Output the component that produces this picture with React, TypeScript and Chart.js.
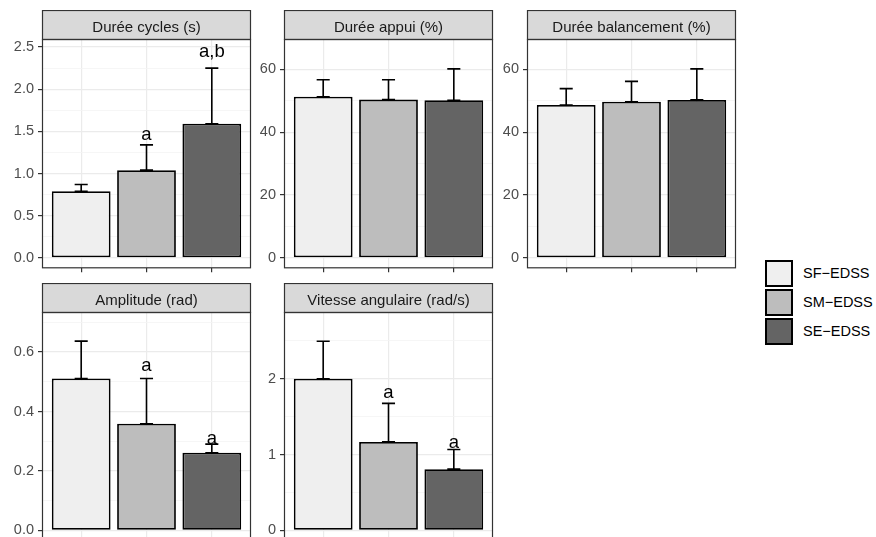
import React, { useEffect, useRef } from "react";
import { Chart, registerables } from "chart.js";

Chart.register(...registerables);

const FONT = '"Liberation Sans", Arial, Helvetica, sans-serif';

// ---------- data ----------
const groups = ["SF\u2212EDSS", "SM\u2212EDSS", "SE\u2212EDSS"];
const groupColors = ["#EFEFEF", "#BDBDBD", "#646464"];
const groupX = [1, 2, 3];

const cyclesTitle = "Durée cycles (s)";
const cyclesMean = [0.79, 1.04, 1.59];
const cyclesUpper = [0.87, 1.34, 2.25];
const cyclesLetters = ["", "a", "a,b"];
const cyclesLetterY = [0, 1.4, 2.385];
const cyclesTicks = [0, 0.5, 1, 1.5, 2, 2.5];
const cyclesTickLabels = ["0.0", "0.5", "1.0", "1.5", "2.0", "2.5"];
const cyclesMinor = [0.25, 0.75, 1.25, 1.75, 2.25];
const cyclesRange = [-0.124, 2.596];

const appuiTitle = "Durée appui (%)";
const appuiMean = [51.3, 50.4, 50.2];
const appuiUpper = [56.7, 56.7, 60.2];
const appuiLetters = ["", "", ""];
const appuiLetterY = [0, 0, 0];
const appuiTicks = [0, 20, 40, 60];
const appuiTickLabels = ["0", "20", "40", "60"];
const appuiMinor = [10, 30, 50];
const appuiRange = [-3.32, 69.7];

const balTitle = "Durée balancement (%)";
const balMean = [48.7, 49.7, 50.3];
const balUpper = [53.9, 56.2, 60.2];
const balLetters = ["", "", ""];
const balLetterY = [0, 0, 0];
const balTicks = [0, 20, 40, 60];
const balTickLabels = ["0", "20", "40", "60"];
const balMinor = [10, 30, 50];
const balRange = [-3.32, 69.7];

const ampTitle = "Amplitude (rad)";
const ampMean = [0.511, 0.359, 0.261];
const ampUpper = [0.637, 0.511, 0.29];
const ampLetters = ["", "a", "a"];
const ampLetterY = [0, 0.537, 0.2906];
const ampTicks = [0, 0.2, 0.4, 0.6];
const ampTickLabels = ["0.0", "0.2", "0.4", "0.6"];
const ampMinor = [0.1, 0.3, 0.5, 0.7];
const ampRange = [-0.037, 0.735];

const vitTitle = "Vitesse angulaire (rad/s)";
const vitMean = [2.0, 1.166, 0.807];
const vitUpper = [2.494, 1.675, 1.066];
const vitLetters = ["", "a", "a"];
const vitLetterY = [0, 1.747, 1.082];
const vitTicks = [0, 1, 2];
const vitTickLabels = ["0", "1", "2"];
const vitMinor = [0.5, 1.5, 2.5];
const vitRange = [-0.145, 2.88];

// ---------- layout ----------
const PANEL_LEFTS = [42, 284, 527];
const STRIP_TOPS = [10, 283];
const PANEL_W = 209;
const STRIP_H = 29;
const PANEL_H = 230;
const AXIS_W = 42;
const XAXIS_H = 12;
const PAD_R = 2;

type PanelSpec = {
  title: string;
  mean: number[];
  upper: number[];
  letters: string[];
  letterY: number[];
  ticks: number[];
  tickLabels: string[];
  minor: number[];
  range: number[];
  col: number;
  row: number;
};

const panels: PanelSpec[] = [
  { title: cyclesTitle, mean: cyclesMean, upper: cyclesUpper, letters: cyclesLetters, letterY: cyclesLetterY, ticks: cyclesTicks, tickLabels: cyclesTickLabels, minor: cyclesMinor, range: cyclesRange, col: 0, row: 0 },
  { title: appuiTitle, mean: appuiMean, upper: appuiUpper, letters: appuiLetters, letterY: appuiLetterY, ticks: appuiTicks, tickLabels: appuiTickLabels, minor: appuiMinor, range: appuiRange, col: 1, row: 0 },
  { title: balTitle, mean: balMean, upper: balUpper, letters: balLetters, letterY: balLetterY, ticks: balTicks, tickLabels: balTickLabels, minor: balMinor, range: balRange, col: 2, row: 0 },
  { title: ampTitle, mean: ampMean, upper: ampUpper, letters: ampLetters, letterY: ampLetterY, ticks: ampTicks, tickLabels: ampTickLabels, minor: ampMinor, range: ampRange, col: 0, row: 1 },
  { title: vitTitle, mean: vitMean, upper: vitUpper, letters: vitLetters, letterY: vitLetterY, ticks: vitTicks, tickLabels: vitTickLabels, minor: vitMinor, range: vitRange, col: 1, row: 1 },
];

const isIn = (arr: number[], v: number) => arr.some((m) => Math.abs(m - v) < 1e-9);

function Panel({ spec }: { spec: PanelSpec }) {
  const ref = useRef<HTMLCanvasElement | null>(null);
  const W = AXIS_W + PANEL_W + PAD_R;
  const H = STRIP_H + PANEL_H + XAXIS_H;

  useEffect(() => {
    const canvas = ref.current;
    if (!canvas) return;
    const allTicks = [...spec.ticks, ...spec.minor].sort((a, b) => a - b);

    const panelPlugin = {
      id: "panelDecor",
      afterDatasetsDraw(chart: any) {
        const ctx = chart.ctx;
        const xs = chart.scales.x;
        const ys = chart.scales.y;
        ctx.save();
        // error bars
        ctx.strokeStyle = "#000000";
        ctx.lineWidth = 1.6;
        spec.mean.forEach((m, i) => {
          const cx = xs.getPixelForValue(groupX[i]);
          const x0 = xs.getPixelForValue(groupX[i] - 0.1);
          const x1 = xs.getPixelForValue(groupX[i] + 0.1);
          const yM = ys.getPixelForValue(m);
          const yU = ys.getPixelForValue(spec.upper[i]);
          ctx.beginPath();
          ctx.moveTo(cx, yM);
          ctx.lineTo(cx, yU);
          ctx.moveTo(x0, yU);
          ctx.lineTo(x1, yU);
          ctx.moveTo(x0, yM);
          ctx.lineTo(x1, yM);
          ctx.stroke();
        });
        // letters
        ctx.fillStyle = "#000000";
        ctx.font = `18.5px ${FONT}`;
        ctx.textAlign = "center";
        ctx.textBaseline = "alphabetic";
        spec.letters.forEach((t, i) => {
          if (!t) return;
          ctx.fillText(t, xs.getPixelForValue(groupX[i]), ys.getPixelForValue(spec.letterY[i]));
        });
        ctx.restore();
      },
      afterDraw(chart: any) {
        const ctx = chart.ctx;
        const ca = chart.chartArea;
        const w = ca.right - ca.left;
        ctx.save();
        // strip
        ctx.fillStyle = "#D9D9D9";
        ctx.fillRect(ca.left, 0, w, ca.top);
        ctx.strokeStyle = "#333333";
        ctx.lineWidth = 1.2;
        ctx.strokeRect(ca.left + 0.5, 0.5, w - 1, ca.top);
        ctx.fillStyle = "#1A1A1A";
        ctx.font = `15px ${FONT}`;
        ctx.textAlign = "center";
        ctx.textBaseline = "alphabetic";
        ctx.fillText(spec.title, (ca.left + ca.right) / 2, 21.5);
        // panel border
        ctx.strokeRect(ca.left + 0.5, ca.top + 0.5, w - 1, ca.bottom - ca.top - 1);
        ctx.restore();
      },
    };

    const chart = new Chart(canvas, {
      type: "bar",
      data: {
        datasets: [
          {
            label: spec.title,
            data: spec.mean.map((v, i) => ({ x: groupX[i], y: v })),
            backgroundColor: groupColors,
            borderColor: "#000000",
            borderWidth: 1.8,
            borderSkipped: false,
            categoryPercentage: 1,
            barPercentage: 0.9,
          } as any,
        ],
      },
      options: {
        responsive: false,
        animation: false,
        devicePixelRatio: 1,
        layout: { autoPadding: false, padding: { top: STRIP_H, right: PAD_R, left: 0, bottom: 0 } },
        plugins: {
          legend: { display: false },
          tooltip: { enabled: false },
          title: { display: false },
        },
        scales: {
          x: {
            type: "linear",
            min: 0.4,
            max: 3.6,
            offset: false,
            afterBuildTicks: (s: any) => {
              s.ticks = groupX.map((v) => ({ value: v }));
            },
            afterFit: (s: any) => {
              s.height = XAXIS_H;
            },
            ticks: { display: false },
            grid: {
              offset: false,
              color: "#EBEBEB",
              lineWidth: 1.2,
              drawTicks: true,
              tickLength: 4,
              tickColor: "#333333",
              tickWidth: 1.2,
            },
            border: { display: false },
          },
          y: {
            type: "linear",
            min: spec.range[0],
            max: spec.range[1],
            afterBuildTicks: (s: any) => {
              s.ticks = allTicks.map((v) => ({ value: v }));
            },
            afterFit: (s: any) => {
              s.width = AXIS_W;
            },
            ticks: {
              autoSkip: false,
              color: "#4D4D4D",
              font: { family: FONT, size: 14.5 },
              padding: 4,
              callback: (v: any) => {
                const idx = spec.ticks.findIndex((m) => Math.abs(m - v) < 1e-9);
                return idx >= 0 ? spec.tickLabels[idx] : "";
              },
            },
            grid: {
              color: (c: any) => (c.tick && isIn(spec.ticks, c.tick.value) ? "#EBEBEB" : "#F4F4F4"),
              lineWidth: (c: any) => (c.tick && isIn(spec.ticks, c.tick.value) ? 1.2 : 0.8),
              drawTicks: true,
              tickLength: 4,
              tickColor: (c: any) => (c.tick && isIn(spec.ticks, c.tick.value) ? "#333333" : "rgba(0,0,0,0)"),
              tickWidth: 1.2,
            },
            border: { display: false },
          },
        },
      } as any,
      plugins: [panelPlugin],
    });
    return () => chart.destroy();
  }, [spec]);

  return (
    <canvas
      ref={ref}
      width={W}
      height={H}
      style={{
        position: "absolute",
        left: PANEL_LEFTS[spec.col] - AXIS_W,
        top: STRIP_TOPS[spec.row],
        width: W,
        height: H,
      }}
    />
  );
}

function Legend() {
  return (
    <>
      {groups.map((g, i) => (
        <React.Fragment key={g}>
          <div
            style={{
              position: "absolute",
              left: 765,
              top: 260 + i * 29,
              width: 28,
              height: 27,
              boxSizing: "border-box",
              border: "2px solid #000",
              background: groupColors[i],
            }}
          />
          <div
            style={{
              position: "absolute",
              left: 803,
              top: 260 + i * 29,
              height: 27,
              lineHeight: "27px",
              fontFamily: FONT,
              fontSize: 14.5,
              color: "#000",
              whiteSpace: "nowrap",
            }}
          >
            {g}
          </div>
        </React.Fragment>
      ))}
    </>
  );
}

export default function App() {
  return (
    <div
      style={{
        position: "fixed",
        left: 0,
        top: 0,
        width: 876,
        height: 537,
        overflow: "hidden",
        background: "#FFFFFF",
      }}
    >
      {panels.map((p) => (
        <Panel key={p.title} spec={p} />
      ))}
      <Legend />
    </div>
  );
}
